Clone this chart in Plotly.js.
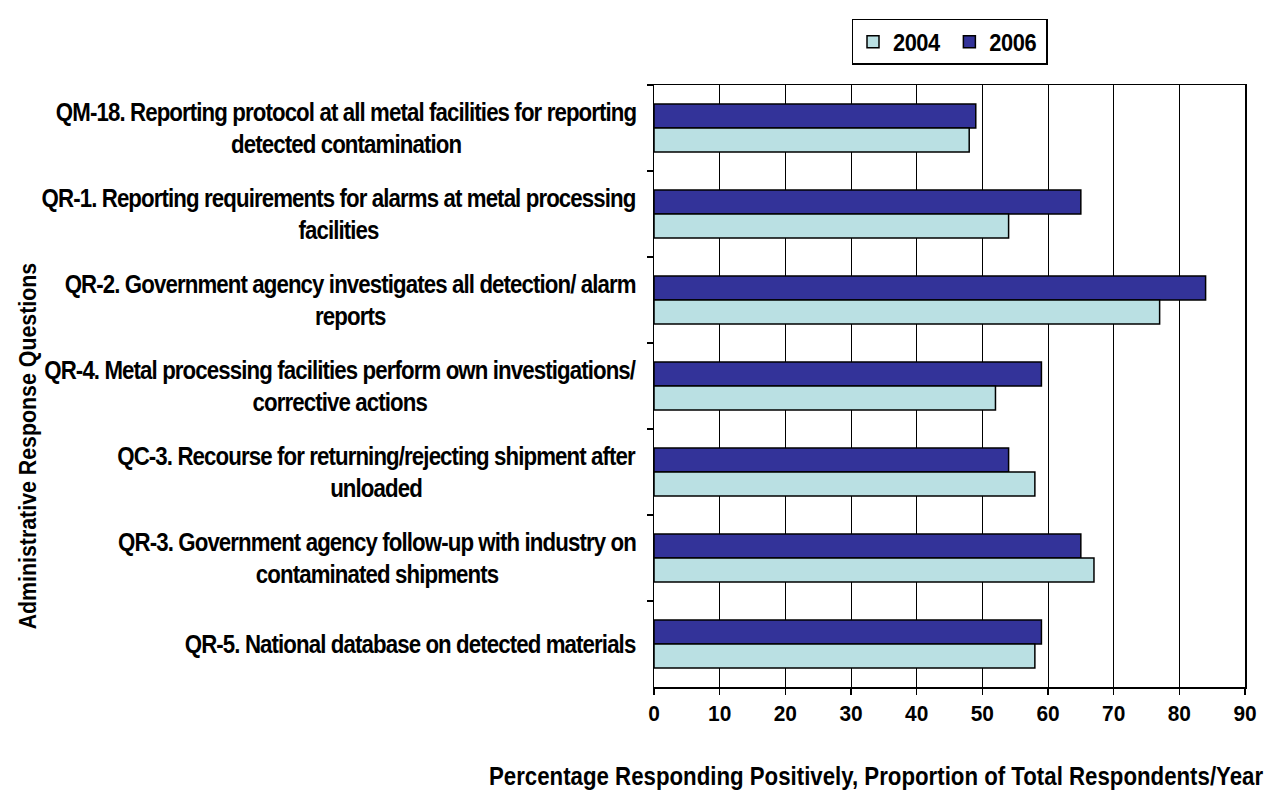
<!DOCTYPE html>
<html>
<head>
<meta charset="utf-8">
<script src="https://cdn.plot.ly/plotly-3.0.1.min.js"></script>
<style>
  html, body { margin: 0; padding: 0; background: #ffffff; }
  #chart { width: 1280px; height: 790px; }
</style>
</head>
<body>
<div id="chart"></div>
<script>
// Categories, top to bottom as shown in the chart
const categories = ["QM-18", "QR-1", "QR-2", "QR-4", "QC-3", "QR-3", "QR-5"];
const categoryLabels = [
  "QM-18. Reporting protocol at all metal facilities for reporting<br>detected contamination",
  "QR-1. Reporting requirements for alarms at metal processing<br>facilities",
  "QR-2. Government agency investigates all detection/ alarm<br>reports",
  "QR-4. Metal processing facilities perform own investigations/<br>corrective actions",
  "QC-3. Recourse for returning/rejecting shipment after<br>unloaded",
  "QR-3. Government agency follow-up with industry on<br>contaminated shipments",
  "QR-5. National database on detected materials"
];
const values2004 = [48, 54, 77, 52, 58, 67, 58];
const values2006 = [49, 65, 84, 59, 54, 65, 59];
const xTicks = [0, 10, 20, 30, 40, 50, 60, 70, 80, 90];
const yTitle = "Administrative Response Questions";
const xTitle = "Percentage Responding Positively, Proportion of Total Respondents/Year";

const FONT = '"Liberation Sans", Arial, sans-serif';

const traces = [
  {
    type: 'bar', orientation: 'h', name: '2006',
    y: categories, x: values2006,
    marker: { color: '#333399', line: { color: '#000000', width: 1.5 } },
    legendrank: 2, hoverinfo: 'x+name'
  },
  {
    type: 'bar', orientation: 'h', name: '2004',
    y: categories, x: values2004,
    marker: { color: '#BAE0E3', line: { color: '#000000', width: 1.5 } },
    legendrank: 1, hoverinfo: 'x+name'
  }
];

const annotations = categories.map((c, i) => ({
  xref: 'paper', yref: 'y', x: -0.027, y: c,
  xanchor: 'right', yanchor: 'middle', align: 'center',
  text: categoryLabels[i], showarrow: false,
  font: { family: FONT, size: 25, color: '#000000', weight: 700 }
}));
annotations.push({
  xref: 'paper', yref: 'paper', x: -1.061, y: 0.40,
  xanchor: 'center', yanchor: 'middle', textangle: -90,
  text: yTitle, showarrow: false,
  font: { family: FONT, size: 24, color: '#000000', weight: 700 }
});
annotations.push({
  xref: 'paper', yref: 'paper', x: 0.376, y: -0.148,
  xanchor: 'center', yanchor: 'middle',
  text: xTitle, showarrow: false,
  font: { family: FONT, size: 25, color: '#000000', weight: 700 }
});

const layout = {
  width: 1280, height: 790,
  margin: { l: 654, r: 35, t: 85, b: 103, pad: 0 },
  paper_bgcolor: '#ffffff', plot_bgcolor: '#ffffff',
  barmode: 'group', bargap: 0.44, bargroupgap: 0,
  showlegend: true,
  legend: {
    orientation: 'h', x: 0.5, y: 1.11, xanchor: 'center', yanchor: 'top',
    bordercolor: '#000000', borderwidth: 1.5, bgcolor: '#ffffff',
    font: { family: FONT, size: 23, color: '#000000', weight: 700 },
    itemwidth: 30, tracegroupgap: 0
  },
  xaxis: {
    range: [0, 90], tickvals: xTicks, ticktext: xTicks.map(String),
    showgrid: true, gridcolor: '#000000', gridwidth: 1,
    zeroline: false, showline: true, linecolor: '#000000', linewidth: 1.5, mirror: true,
    ticks: 'outside', ticklen: 6, tickcolor: '#000000', tickwidth: 1.5,
    tickfont: { family: FONT, size: 22, color: '#000000', weight: 700 },
    fixedrange: true
  },
  yaxis: {
    type: 'category', autorange: 'reversed',
    showticklabels: false, tickson: 'boundaries',
    ticks: 'outside', ticklen: 6, tickcolor: '#000000', tickwidth: 1.5,
    showgrid: false, zeroline: false,
    showline: true, linecolor: '#000000', linewidth: 1.5, mirror: true,
    fixedrange: true
  },
  annotations: annotations
};

// Condense a rendered text element horizontally (the source chart uses tightly set type)
function condense(el, letterSpacing, sx, anchor) {
  const b0 = el.getBBox();
  if (letterSpacing) el.style.letterSpacing = letterSpacing + 'px';
  const b1 = el.getBBox();
  const ref = (b) => anchor === 'right' ? b.x + b.width : anchor === 'left' ? b.x : b.x + b.width / 2;
  const r0 = ref(b0), r1 = ref(b1);
  const prev = el.getAttribute('transform') || '';
  el.setAttribute('transform', (prev + ' translate(' + r0 + ',0) scale(' + sx + ',1) translate(' + (-r1) + ',0)').trim());
}

Plotly.newPlot('chart', traces, layout, { displayModeBar: false, staticPlot: true }).then(() => {
  const gd = document.getElementById('chart');
  gd.querySelectorAll('g.annotation').forEach(g => {
    const idx = +g.getAttribute('data-index');
    const t = g.querySelector('text.annotation-text');
    if (!t) return;
    if (idx < categories.length) condense(t, -1, 0.89, 'right');
    else condense(t, 0, 0.89, 'center');
  });
  gd.querySelectorAll('g.xtick text').forEach(t => condense(t, 0, 0.95, 'center'));
  gd.querySelectorAll('g.legend text.legendtext').forEach(t => condense(t, -0.5, 0.95, 'left'));
});
</script>
</body>
</html>
